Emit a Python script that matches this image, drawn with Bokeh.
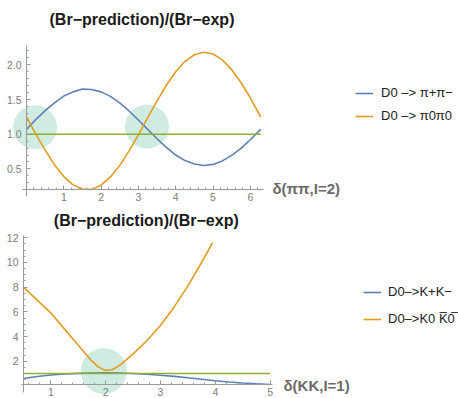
import numpy as np
from bokeh.plotting import figure
from bokeh.layouts import column
from bokeh.models import Range1d, FixedTicker, NumeralTickFormatter, Label, Legend, LegendItem
from bokeh.embed import file_html
from bokeh.resources import INLINE

# ---------------- data ----------------
top_x = [0.0, 0.25, 0.5, 0.75, 1.0, 1.25, 1.5, 1.75, 2.0, 2.25, 2.5, 2.75, 3.0,
         3.25, 3.5, 3.75, 4.0, 4.25, 4.5, 4.75, 5.0, 5.25, 5.5, 5.75, 6.0, 6.25, 6.28]
top_pipi = [1.07, 1.21, 1.34, 1.45, 1.55, 1.61, 1.65, 1.645, 1.61, 1.545, 1.45, 1.335, 1.205,
            1.07, 0.935, 0.81, 0.70, 0.62, 0.57, 0.55, 0.565, 0.615, 0.695, 0.795, 0.92, 1.055, 1.07]
top_pi0pi0 = [1.25, 1.00, 0.77, 0.56, 0.39, 0.27, 0.21, 0.205, 0.265, 0.385, 0.55, 0.76, 0.99,
              1.24, 1.48, 1.705, 1.90, 2.05, 2.145, 2.18, 2.155, 2.07, 1.93, 1.745, 1.525, 1.28, 1.25]
top_ref_x = [0.0, 6.28]
top_ref_y = [1.0, 1.0]
top_circle_x = [0.23, 3.23]
top_circle_y = [1.10, 1.11]

bot_x_kk = [0.5, 0.75, 1.0, 1.25, 1.5, 1.75, 2.0, 2.25, 2.5, 2.75, 3.0, 3.25, 3.5,
            3.75, 4.0, 4.25, 4.5, 4.75, 5.0]
bot_kk = [0.6, 0.76, 0.88, 0.96, 1.01, 1.04, 1.05, 1.04, 1.0, 0.94, 0.86, 0.77, 0.66,
          0.54, 0.42, 0.32, 0.23, 0.16, 0.11]
bot_x_k0 = [0.5, 0.75, 1.0, 1.25, 1.5, 1.75, 1.875, 2.0, 2.125, 2.25, 2.375, 2.5, 2.75,
            3.0, 3.25, 3.5, 3.75, 3.95]
bot_k0 = [8.0, 6.95, 5.9, 4.6, 3.3, 2.0, 1.5, 1.25, 1.33, 1.65, 2.1, 2.6, 3.65,
          4.9, 6.4, 8.1, 10.0, 11.6]
bot_ref_x = [0.5, 5.0]
bot_ref_y = [1.0, 1.0]
bot_circle_x = [1.965]
bot_circle_y = [1.2]

top_xticks = [1, 2, 3, 4, 5, 6]
top_yticks = [0.5, 1.0, 1.5, 2.0]
bot_xticks = [1, 2, 3, 4, 5]
bot_yticks = [2, 4, 6, 8, 10, 12]

title_text = "(Br\u2212prediction)/(Br\u2212exp)"
top_labels = ["D0 \u2013> \u03c0+\u03c0\u2212", "D0 \u2013> \u03c00\u03c00"]
bot_labels = ["D0\u2013>K+K\u2212", "D0\u2013>K0 K\u03050\u0305"]
top_axis_label = "\u03b4(\u03c0\u03c0,I=2)"
bot_axis_label = "\u03b4(KK,I=1)"

BLUE = "#5E81B5"
ORANGE = "#E19C24"
GREEN = "#8FB032"
MINT = "#d0ece1"
AXIS = "#9a9a9a"
FONT = "Liberation Sans"

W = 458


def make_fig(h, sx, x_anchor, sy, y_anchor):
    # x_anchor = (data value, pixel from figure left); y_anchor = (data value, pixel from figure top)
    x0 = x_anchor[0] - x_anchor[1] / sx
    x1 = x0 + W / sx
    y1 = y_anchor[0] + y_anchor[1] / sy
    y0 = y1 - h / sy
    p = figure(width=W, height=h, x_range=Range1d(x0, x1), y_range=Range1d(y0, y1),
               output_backend="svg", toolbar_location=None, min_border=0)
    p.grid.visible = False
    p.outline_line_color = None
    p.background_fill_color = "white"
    p.border_fill_color = "white"
    return p


def style_axes(p, xticks, xminor, yticks, yminor, xbounds, ybounds, xfix, yfix, yfmt=None):
    for ax in (p.xaxis[0], p.yaxis[0]):
        ax.axis_line_color = AXIS
        ax.major_tick_line_color = AXIS
        ax.minor_tick_line_color = AXIS
        ax.major_tick_in = 4
        ax.major_tick_out = 0
        ax.minor_tick_in = 2
        ax.minor_tick_out = 0
        ax.major_label_text_color = "#7c7c7c"
        ax.major_label_text_font = FONT
        ax.major_label_text_font_size = "10.5px"
    p.xaxis[0].major_label_standoff = 3
    p.yaxis[0].major_label_standoff = 5
    p.xaxis[0].ticker = FixedTicker(ticks=xticks, minor_ticks=xminor)
    p.yaxis[0].ticker = FixedTicker(ticks=yticks, minor_ticks=yminor)
    p.xaxis[0].bounds = xbounds
    p.yaxis[0].bounds = ybounds
    p.xaxis[0].fixed_location = xfix
    p.yaxis[0].fixed_location = yfix
    if yfmt:
        p.yaxis[0].formatter = NumeralTickFormatter(format=yfmt)


def add_text(p, x, y, text, size, color, align="left"):
    p.add_layout(Label(x=x, y=y, x_units="screen", y_units="screen", text=text,
                       text_font=FONT, text_font_size=size, text_font_style="bold",
                       text_color=color, text_align=align, text_baseline="middle"))


def make_legend(items, loc, lh, standoff):
    return Legend(items=items, location=loc, padding=0, margin=0, spacing=3,
                  label_height=lh, glyph_height=lh, glyph_width=18, label_standoff=standoff,
                  label_width=90,
                  label_text_font=FONT, label_text_font_size="13px",
                  label_text_color="#222222",
                  background_fill_alpha=0, border_line_alpha=0)


# ---------------- top chart ----------------
H1 = 204
p1 = make_fig(H1, 37.3, (0.0, 26), 69.4, (2.0, 64.3))
style_axes(p1, top_xticks, list(np.round(np.arange(0.2, 6.3, 0.2), 2)),
           top_yticks, list(np.round(np.arange(0.2, 2.25, 0.1), 2)),
           (-0.12, 6.35), (0.1, 2.28), 0.197, 0.0, yfmt="0.0")
p1.scatter(top_circle_x, top_circle_y, size=44, marker="circle", fill_color=MINT,
           line_color=None)
r1 = p1.line(top_x, top_pipi, line_color=BLUE, line_width=1.6)
r2 = p1.line(top_x, top_pi0pi0, line_color=ORANGE, line_width=1.6)
p1.line(top_ref_x, top_ref_y, line_color=GREEN, line_width=1.6)
p1.add_layout(make_legend([LegendItem(label=top_labels[0], renderers=[r1]),
                           LegendItem(label=top_labels[1], renderers=[r2])],
                          (355, H1 - 125.7), 20, 8))
add_text(p1, 141.5, H1 - 18.5, title_text, "16px", "#1a1a1a", align="center")
add_text(p1, 272, H1 - 187.7, top_axis_label, "15px", "#6a6a6a")

# ---------------- bottom chart ----------------
H2 = 194
TOP2 = 398 - H2
p2 = make_fig(H2, 54.8, (0.5, 23), 12.34, (12.0, 237.3 - TOP2))
style_axes(p2, bot_xticks, list(np.round(np.arange(0.6, 5.05, 0.2), 2)),
           bot_yticks, list(np.round(np.arange(0.5, 12.1, 0.5), 2)),
           (0.46, 5.05), (-0.5, 12.19), 0.09, 0.5)
p2.scatter(bot_circle_x, bot_circle_y, size=46, marker="circle", fill_color=MINT,
           line_color=None)
r3 = p2.line(bot_x_kk, bot_kk, line_color=BLUE, line_width=1.6)
r4 = p2.line(bot_x_k0, bot_k0, line_color=ORANGE, line_width=1.6)
p2.line(bot_ref_x, bot_ref_y, line_color=GREEN, line_width=1.6)
p2.add_layout(make_legend([LegendItem(label=bot_labels[0], renderers=[r3]),
                           LegendItem(label=bot_labels[1], renderers=[r4])],
                          (363, 398 - 330.7), 24, 7))
add_text(p2, 145.8, 398 - 220, title_text, "16px", "#1a1a1a", align="center")
add_text(p2, 283, 398 - 385, bot_axis_label, "15px", "#6a6a6a")

layout = column(p1, p2, spacing=0)
open("out.html", "w").write(file_html(layout, INLINE))
